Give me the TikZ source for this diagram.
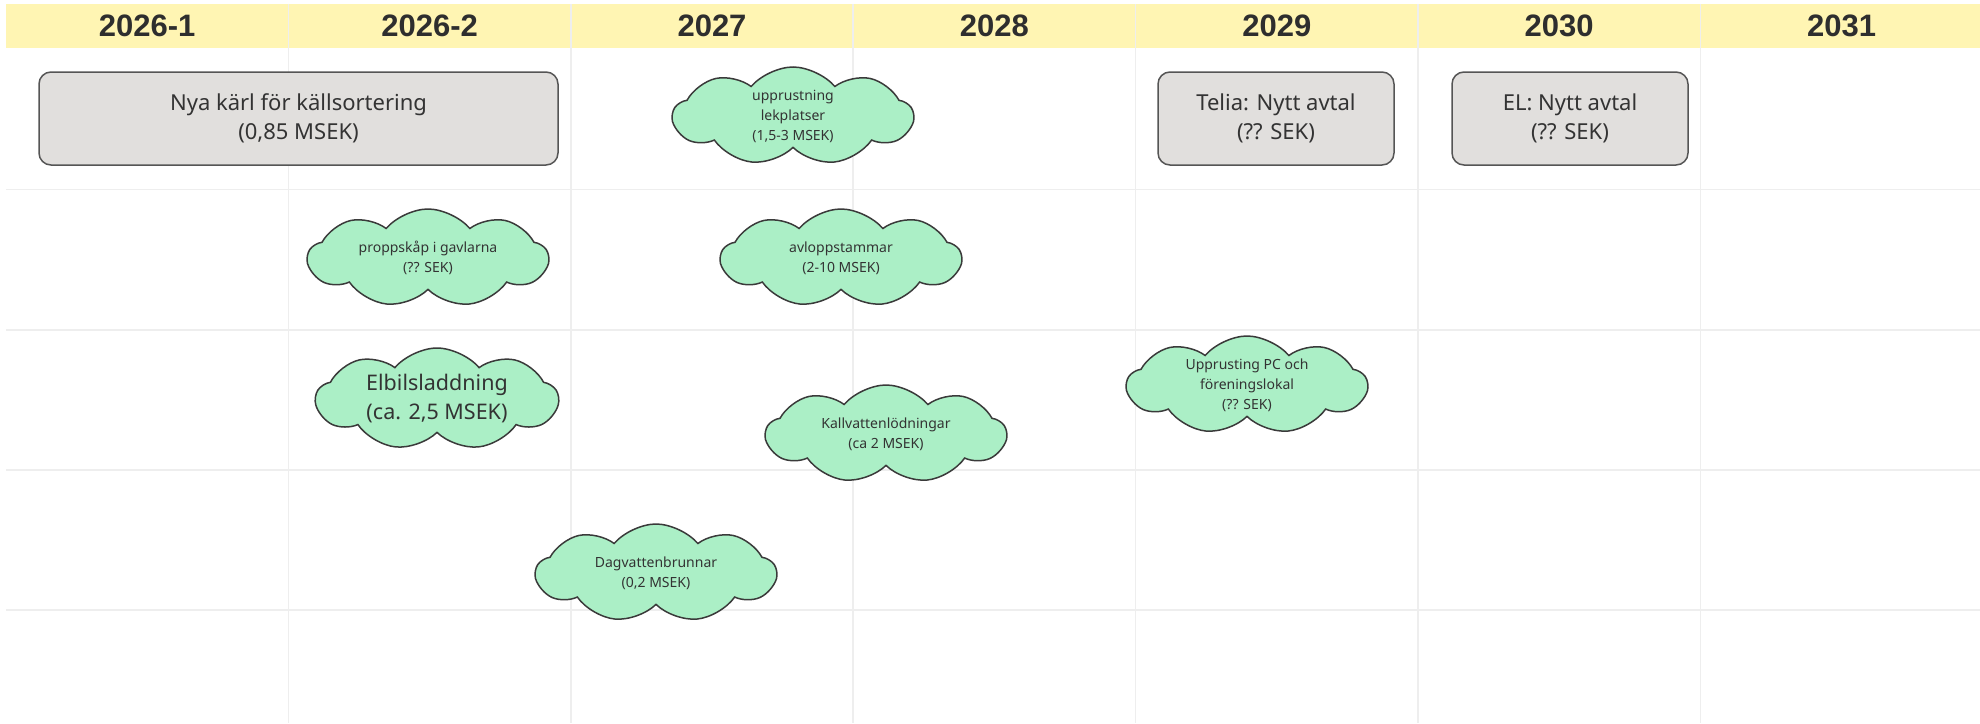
\documentclass[tikz,border=0pt]{standalone}
\usepackage{fontspec}
\setmainfont{Noto Sans}
\newfontfamily\headfont{Liberation Sans}
\usetikzlibrary{shapes.symbols}
\definecolor{headyellow}{HTML}{FFF5B3}
\definecolor{gridgray}{HTML}{EEEEEE}
\definecolor{boxgray}{HTML}{E1DFDD}
\definecolor{boxline}{HTML}{555555}
\definecolor{cloudgreen}{HTML}{ABEFC6}
\definecolor{cloudline}{HTML}{3A3A3A}
\definecolor{txt}{HTML}{333333}
\tikzset{
  headtext/.style={font=\headfont\bfseries\fontsize{31}{33}\selectfont, text=txt!90!black},
  gridline/.style={draw=gridgray, line width=1.5pt},
  taskbox/.style={rectangle, rounded corners=12pt, fill=boxgray, draw=boxline, line width=1.5pt,
    align=center, text=txt, font=\fontsize{22}{29}\selectfont, minimum height=93pt, inner sep=0pt},
  puff/.style={cloud, cloud puffs=9, cloud puff arc=100, cloud ignores aspect, fill=cloudgreen,
    draw=cloudline, line width=1.5pt, align=center, text=txt, font=\fontsize{14}{20}\selectfont,
    minimum width=240pt, minimum height=98pt, inner sep=0pt},
}
\begin{document}
\begin{tikzpicture}[x=1pt,y=-1pt]
\useasboundingbox (0,0) rectangle (1980,723);
\fill[white] (0,0) rectangle (1980,723);
\fill[headyellow] (6,4) rectangle (1980,48);
% grid
\foreach \k in {1,...,6} {
  \draw[gridline] ({6+282.4*\k},4) -- ({6+282.4*\k},723);
}
\foreach \yy in {189.5,330,470,610} {
  \draw[gridline] (6,\yy) -- (1980,\yy);
}
% headers
\node[headtext] (h1) at ({6+282.4*0.5},26) {2026-1};
\node[headtext] (h2) at ({6+282.4*1.5},26) {2026-2};
\node[headtext] (h3) at ({6+282.4*2.5},26) {2027};
\node[headtext] (h4) at ({6+282.4*3.5},26) {2028};
\node[headtext] (h5) at ({6+282.4*4.5},26) {2029};
\node[headtext] (h6) at ({6+282.4*5.5},26) {2030};
\node[headtext] (h7) at ({6+282.4*6.5},26) {2031};
% boxes
\node[taskbox, minimum width=519pt] (nya) at (298.5,118.5) {Nya kärl för källsortering\\(0,85 MSEK)};
\node[taskbox, minimum width=236pt] (telia) at (1276,118.5) {Telia: Nytt avtal\\(?? SEK)};
\node[taskbox, minimum width=236pt] (el) at (1570,118.5) {EL: Nytt avtal\\(?? SEK)};
% clouds
\node[puff] (lek) at (793,116) {upprustning\\lekplatser\\(1,5-3 MSEK)};
\node[puff] (propp) at (428,258) {proppskåp i gavlarna\\(?? SEK)};
\node[puff] (avlopp) at (841,258) {avloppstammar\\(2-10 MSEK)};
\node[puff, minimum width=242pt, minimum height=102pt, font=\fontsize{21.5}{29}\selectfont] (elbil) at (437,399) {Elbilsladdning\\(ca. 2,5 MSEK)};
\node[puff] (kall) at (886,434) {Kallvattenlödningar\\(ca 2 MSEK)};
\node[puff] (pc) at (1247,385) {Upprusting PC och\\föreningslokal\\(?? SEK)};
\node[puff] (dag) at (656,573) {Dagvattenbrunnar\\(0,2 MSEK)};
\end{tikzpicture}
\end{document}
